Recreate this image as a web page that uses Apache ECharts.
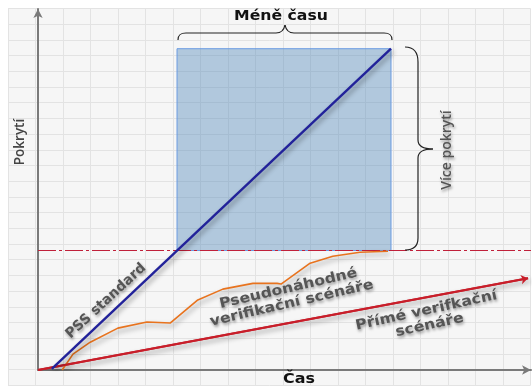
<!DOCTYPE html>
<html>
<head>
<meta charset="utf-8">
<script src="https://cdn.jsdelivr.net/npm/echarts@6/dist/echarts.min.js"></script>
<style>
html,body{margin:0;padding:0;background:#fff;}
#main{width:532px;height:390px;}
</style>
</head>
<body>
<div id="main"></div>
<script>
// ---- data (time 0..100, coverage 0..100) ----
const pssTime = [2.8, 71.6];
const pssCov = [0.3, 89.0];

const pseudoTime = [4.9, 7.1, 10.6, 16.2, 22.1, 26.8, 32.3, 37.5, 43.6, 48.5, 49.3, 55.2, 59.8, 65.3, 71.0];
const pseudoCov  = [0.0, 4.4, 7.7, 11.6, 13.3, 13.0, 19.3, 22.4, 24.0, 24.0, 23.8, 29.6, 31.5, 32.6, 32.9];

const directTime = [0, 99.4];
const directCov = [0, 25.4];

const targetCov = 33.1;          // coverage reached by the directed scenarios
const targetTimeRange = [0, 100];
const savedTime = [28.2, 71.6];  // "Méně času"
const gainedCov = [33.1, 89.0];  // "Více pokrytí"

const labels = {
  title: 'Méně času',
  xName: 'Čas',
  yName: 'Pokrytí',
  moreCov: 'Více pokrytí',
  pss: 'PSS standard',
  pseudo: 'Pseudonáhodné\nverifikační scénáře',
  direct: 'Přímé verifkační\nscénáře'
};

const zip = (a, b) => a.map((v, i) => [v, b[i]]);

const chart = echarts.init(document.getElementById('main'), null, {renderer: 'canvas'});

const lineShadow = {shadowColor: 'rgba(0,0,0,0.4)', shadowBlur: 5, shadowOffsetX: 2, shadowOffsetY: 3};
const noShadow = {textShadowBlur: 0, shadowBlur: 0, textShadowOffsetY: 0, shadowOffsetY: 0, textShadowOffsetX: 0, shadowOffsetX: 0};
const textBase = {
  fontFamily: 'DejaVu Sans', fontWeight: 'bold', fontSize: 14,
  fill: '#555', align: 'center', verticalAlign: 'middle',
  textShadowColor: 'rgba(0,0,0,0.4)', textShadowBlur: 3, textShadowOffsetX: 1, textShadowOffsetY: 2,
  shadowColor: 'rgba(0,0,0,0.4)', shadowBlur: 3, shadowOffsetX: 1, shadowOffsetY: 2,
  lineHeight: 15
};

// brace pieces: ['L', x1,y1,x2,y2] or ['C', x1,y1,cx1,cy1,cx2,cy2,x2,y2]
const braceStyle = {stroke: '#222', lineWidth: 1.2, fill: null};
function brace(pieces) {
  return pieces.map(p => p[0] === 'L'
    ? {type: 'line', z: 10, shape: {x1: p[1], y1: p[2], x2: p[3], y2: p[4]}, style: braceStyle}
    : {type: 'bezierCurve', z: 10, shape: {x1: p[1], y1: p[2], cpx1: p[3], cpy1: p[4], cpx2: p[5], cpy2: p[6], x2: p[7], y2: p[8]}, style: braceStyle});
}
const topBrace = brace([
  ['C', 178, 40, 178, 35, 180, 33, 186, 33],
  ['L', 186, 33, 276, 33],
  ['C', 276, 33, 281, 33, 284, 30, 285, 25],
  ['C', 285, 25, 286, 30, 289, 33, 294, 33],
  ['L', 294, 33, 384, 33],
  ['C', 384, 33, 390, 33, 392, 35, 392, 40]
]);
const sideBrace = brace([
  ['C', 405, 47, 414, 47, 418, 52, 418, 62],
  ['L', 418, 62, 418, 140],
  ['C', 418, 140, 418, 146, 424, 149, 433, 149],
  ['C', 433, 149, 424, 149, 418, 152, 418, 158],
  ['L', 418, 158, 418, 238],
  ['C', 418, 238, 418, 246, 414, 250, 405, 250]
]);

chart.setOption({
  backgroundColor: '#ffffff',
  animation: false,
  grid: [
    {left: 8, top: 8.5, width: 522.5, height: 376.8, show: true, backgroundColor: '#f6f6f6', borderWidth: 0},
    {left: 38, top: 9, right: 1, bottom: 20}
  ],
  xAxis: [
    {gridIndex: 0, type: 'value', min: 0, max: 19, interval: 1,
     axisLine: {show: false}, axisTick: {show: false}, axisLabel: {show: false},
     splitLine: {show: true, lineStyle: {color: '#e3e3e3', width: 1}}},
    {gridIndex: 1, type: 'value', min: 0, max: 100,
     axisLine: {show: true, symbol: ['none', 'arrow'], symbolSize: [7, 9], lineStyle: {color: '#7a7a7a', width: 2}},
     axisTick: {show: false}, axisLabel: {show: false}, splitLine: {show: false}}
  ],
  yAxis: [
    {gridIndex: 0, type: 'value', min: 0, max: 24, interval: 1,
     axisLine: {show: false}, axisTick: {show: false}, axisLabel: {show: false},
     splitLine: {show: true, lineStyle: {color: '#e3e3e3', width: 1}}},
    {gridIndex: 1, type: 'value', min: 0, max: 100,
     axisLine: {show: true, symbol: ['none', 'arrow'], symbolSize: [7, 9], lineStyle: {color: '#7a7a7a', width: 2}},
     axisTick: {show: false}, axisLabel: {show: false}, splitLine: {show: false}}
  ],
  series: [
    {
      type: 'line', xAxisIndex: 1, yAxisIndex: 1, z: 2,
      data: targetTimeRange.map(t => [t, targetCov]),
      symbol: 'none',
      lineStyle: {color: '#c0203a', width: 1.2, type: [18, 3, 3, 3]},
      markArea: {
        silent: true,
        itemStyle: {color: 'rgba(82,135,187,0.42)', borderColor: '#6a9be2', borderWidth: 1},
        data: [[{xAxis: savedTime[0], yAxis: gainedCov[0]}, {xAxis: savedTime[1], yAxis: gainedCov[1]}]]
      }
    },
    {
      type: 'line', xAxisIndex: 1, yAxisIndex: 1, z: 4,
      data: zip(directTime, directCov), symbol: 'none',
      lineStyle: Object.assign({color: '#c81e2a', width: 2}, lineShadow),
      markLine: {
        silent: true, symbol: ['none', 'arrow'], symbolSize: 7,
        label: {show: false},
        lineStyle: {color: '#c81e2a', width: 2, type: 'solid'},
        data: [[{coord: [directTime[0], directCov[0]]}, {coord: [directTime[1], directCov[1]]}]]
      }
    },
    {
      type: 'line', xAxisIndex: 1, yAxisIndex: 1, z: 4,
      data: zip(pseudoTime, pseudoCov), symbol: 'none',
      lineStyle: Object.assign({color: '#e8731e', width: 1.6}, lineShadow)
    },
    {
      type: 'line', xAxisIndex: 1, yAxisIndex: 1, z: 5,
      data: zip(pssTime, pssCov), symbol: 'none',
      lineStyle: Object.assign({color: '#22229a', width: 2.4}, lineShadow)
    }
  ],
  graphic: [
    {type: 'text', x: 281, y: 16, z: 10, scaleX: 1.12, style: Object.assign({}, textBase, noShadow, {text: labels.title, fill: '#111'})},
    {type: 'text', x: 299, y: 379, z: 10, scaleX: 1.1, style: Object.assign({}, textBase, noShadow, {text: labels.xName, fill: '#111', fontSize: 14.5})},
    {type: 'text', x: 20, y: 142, rotation: Math.PI / 2, z: 10, style: Object.assign({}, textBase, noShadow, {text: labels.yName, fontFamily: 'Open Sans', fontWeight: 600, fontSize: 13.5, fill: '#444'})},
    {type: 'text', x: 447, y: 150, rotation: Math.PI / 2, z: 10, style: Object.assign({}, textBase, {text: labels.moreCov, fontFamily: 'Open Sans', fontWeight: 600, fontSize: 14, fill: '#555'})},
    {type: 'text', x: 106, y: 301, rotation: 0.745, z: 10, scaleX: 0.98, style: Object.assign({}, textBase, {text: labels.pss})},
    {type: 'text', x: 290, y: 296, rotation: 0.227, z: 10, scaleX: 1.12, style: Object.assign({}, textBase, {text: labels.pseudo})},
    {type: 'text', x: 428, y: 318, rotation: 0.216, z: 10, scaleX: 1.12, style: Object.assign({}, textBase, {text: labels.direct})}
  ].concat(topBrace, sideBrace)
});
</script>
</body>
</html>
